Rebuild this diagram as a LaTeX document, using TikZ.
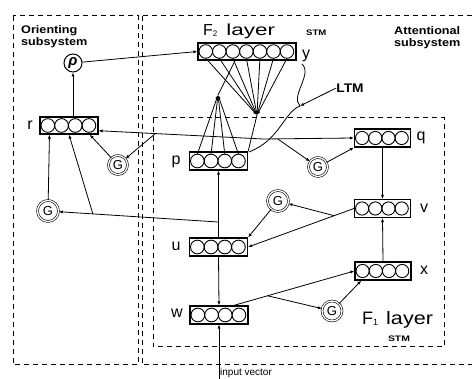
\documentclass[tikz,border=0pt]{standalone}
\usepackage{fontspec}
\setmainfont{Liberation Sans}
\usepackage{graphicx}
\usetikzlibrary{calc,arrows.meta}
\newcommand\wide[2]{\scalebox{#1}[1]{#2}}
\newcommand\unitcircles[3]{\foreach \k in {1,...,#2}{\draw[cellc] ($(#1.west)+({1.6+(2*\k-1)*#3},0)$) circle[radius=#3pt];}}
\begin{document}
\begin{tikzpicture}[x=1pt,y=-1pt,
  dbox/.style={line width=1pt, dash pattern=on 5pt off 4pt},
  lbox/.style={draw, line width=1.2pt, minimum width=58pt, minimum height=18pt, inner sep=0pt},
  cellc/.style={line width=0.9pt},
  gnode/.style={circle, draw, line width=0.6pt, double, double distance=1.3pt, minimum size=19pt, inner sep=0pt, font=\fontsize{13}{13}\selectfont},
  lab/.style={inner sep=0pt, font=\fontsize{16}{16}\selectfont},
  arr/.style={line width=0.8pt, -{Latex[length=4pt,width=3.2pt]}},
  con/.style={line width=0.8pt},
  sub/.style={inner sep=0pt, align=left, anchor=north west, font=\fontsize{11}{12.5}\selectfont\bfseries},
  stm/.style={inner sep=0pt, font=\fontsize{8}{8}\selectfont\bfseries},
]
\useasboundingbox (0,0) rectangle (472,379);

% dashed subsystem boxes
\draw[dbox] (13,16) rectangle (138,365);
\draw[dbox] (142,16) rectangle (480,365);
\draw[dbox] (153,118) rectangle (444,347);

% texts
\node[sub] (orlab) at (21,25) {\wide{1.15}{Orienting}\\\wide{1.15}{subsystem}};
\node[sub] (atlab) at (394,26) {\wide{1.15}{Attentional}\\\wide{1.15}{subsystem}};
\node[inner sep=0pt, anchor=base west, font=\fontsize{16}{16}\selectfont] (f2lab) at (203,36) {F\raisebox{-1pt}{\fontsize{8}{8}\selectfont 2}\hspace{9pt}\wide{1.4}{layer}};
\node[stm, anchor=west] (stm2) at (306,33) {\wide{1.2}{STM}};
\node[inner sep=0pt, anchor=base west, font=\fontsize{18}{18}\selectfont] (f1lab) at (362,325) {F\raisebox{-1pt}{\fontsize{9}{9}\selectfont 1}\hspace{8pt}\wide{1.2}{layer}};
\node[stm] (stm1) at (399,338.5) {\wide{1.3}{STM}};
\node[inner sep=0pt, font=\fontsize{12.5}{12.5}\selectfont\bfseries] (ltm) at (350,88) {\wide{1.1}{LTM}};
\node[inner sep=0pt, anchor=base west, font=\fontsize{10}{10}\selectfont] (inlab) at (220,376) {input vector};

% layer boxes
\node[lbox, minimum width=98pt, minimum height=17pt] (ybox) at (247,51.5) {};
\unitcircles{ybox}{7}{6.77}
\node[lbox] (pbox) at (218.5,161) {};
\unitcircles{pbox}{4}{6.85}
\node[lbox] (ubox) at (218.5,247) {};
\unitcircles{ubox}{4}{6.85}
\node[lbox] (wbox) at (219,315) {};
\unitcircles{wbox}{4}{6.85}
\node[lbox, minimum width=56pt] (qbox) at (382.5,138) {};
\unitcircles{qbox}{4}{6.6}
\node[lbox, minimum width=56pt] (vbox) at (382.5,208.5) {};
\unitcircles{vbox}{4}{6.6}
\node[lbox, minimum width=56pt] (xbox) at (383,271) {};
\unitcircles{xbox}{4}{6.6}
\node[lbox, minimum height=17pt] (rbox) at (69,125.5) {};
\unitcircles{rbox}{4}{6.85}

% box labels
\node[lab] (ylab) at (306,56) {y};
\node[lab] (plab) at (176,162) {p};
\node[lab] (qlab) at (421,138) {q};
\node[lab] (ulab) at (176,246) {u};
\node[lab] (vlab) at (424,208) {v};
\node[lab] (wlab) at (177,313) {w};
\node[lab] (xlab) at (424,270) {x};
\node[lab] (rlab) at (30,125) {r};

% rho and gain nodes
\node[circle, draw, line width=1pt, minimum size=18pt, inner sep=0pt, font=\fontsize{15}{15}\selectfont\bfseries\itshape] (rho) at (73,63) {ρ};
\node[gnode] (Gr) at (118,165) {G};
\node[gnode, minimum size=21pt] (Gl) at (48,211) {G};
\node[gnode] (Gq) at (318,167) {G};
\node[gnode, minimum size=21pt] (Gu) at (278,201) {G};
\node[gnode, minimum size=20pt] (Gx) at (332,311) {G};

% orienting connections
\draw[arr] (rho) -- (ybox.west);
\draw[arr] (rbox.north -| rho) -- (rho.south);

% horizontal line from p region to r and q
\coordinate (J1) at (263,139);
\draw[arr] (J1) -- (rbox.-10);
\draw[arr] (J1) -- (qbox.west);
\coordinate (J2) at ($(J1)!0.655!(rbox.-10)$);
\draw[arr] (J2) -- (Gr);
\draw[arr] (Gr) -- ($(rbox.south)!0.7!(rbox.south east)$);
\coordinate (J7) at ($(J1)!0.16!(qbox.west)$);
\draw[arr] (J7) -- (Gq);
\draw[arr] (Gq) -- (qbox.south west);

% u to p, and u to r
\draw[arr] (ubox.north) -- (pbox.south);
\coordinate (J3) at ($(ubox.north)!0.23!(pbox.south)$);
\draw[arr] (J3) -- (Gl);
\coordinate (J4) at ($(J3)!0.737!(Gl)$);
\draw[arr] (J4) -- (rbox.south);
\draw[arr] (Gl) -- ($(rbox.south west)!0.17!(rbox.south east)$);

% q, v, x, u, w
\draw[arr] (qbox.south) -- (vbox.north);
\draw[arr] (xbox.north) -- (vbox.south);
\draw[arr] (vbox.west) -- (ubox.east);
\coordinate (J5) at ($(vbox.west)!0.187!(ubox.east)$);
\draw[arr] (J5) -- (Gu);
\draw[arr] (Gu) -- (ubox.north east);
\draw[arr] (ubox.south) -- (wbox.north);
\coordinate (inp) at (219,379);
\draw[arr] (inp) -- (wbox.south);
\coordinate (wout) at ($(wbox.north)!0.5!(wbox.north east)$);
\draw[arr] (wout) -- (xbox.west);
\coordinate (J6) at ($(wout)!0.28!(xbox.west)$);
\draw[arr] (J6) -- (Gx);
\draw[arr] (Gx) -- ($(xbox.south west)!0.12!(xbox.south east)$);

% F2 <-> p fans
\coordinate (C1) at (257,115);
\coordinate (C2) at (218,95);
\foreach \k in {1,...,7}{\draw[arr] ($(ybox.west)+({1.6+(2*\k-1)*6.77},6.8)$) -- (C1);}
\draw[con] (C1) -- (pbox.north east);
\foreach \k in {1,...,4}{\draw[arr] ($(pbox.west)+({1.6+(2*\k-1)*6.85},-6.9)$) -- (C2);}
\draw[con] (C2) -- ($(ybox.south west)!0.38!(ybox.south east)$);

% LTM brace and pointer
\coordinate (ltmtip) at (300,106);
\draw[con] (302,64) .. controls (313,74) and (290,96) .. (ltmtip) .. controls (284,112) and (280,140) .. (249,152);
\draw[arr] (ltm.west) -- (ltmtip);
\end{tikzpicture}
\end{document}
